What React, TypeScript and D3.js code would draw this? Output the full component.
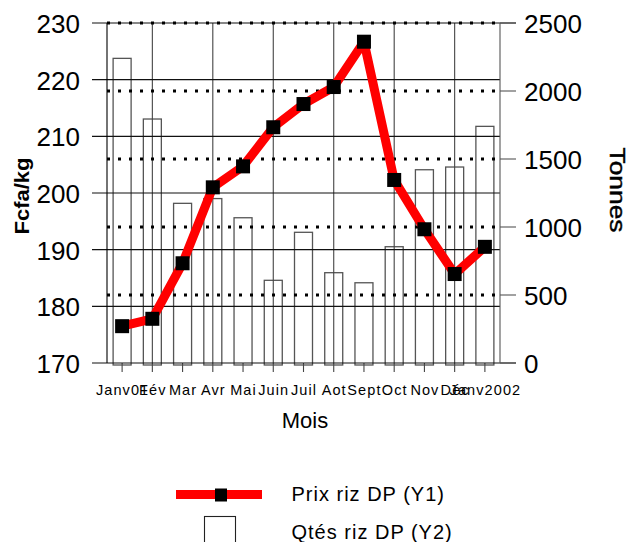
import React from "react";
import * as d3 from "d3";

const categories = ["Janv01", "Fév", "Mar", "Avr", "Mai", "Juin", "Juil", "Aot", "Sept", "Oct", "Nov", "Déc", "Janv2002"];
const prices = [176.5, 177.8, 187.6, 201.0, 204.7, 211.6, 215.7, 218.7, 226.7, 202.3, 193.6, 185.7, 190.5];
const quantities = [2240, 1794, 1174, 1209, 1068, 608, 961, 664, 590, 855, 1421, 1441, 1740];
const y1Ticks = [170, 180, 190, 200, 210, 220, 230];
const y2Ticks = [0, 500, 1000, 1500, 2000, 2500];

const FONT = "'Liberation Sans', Arial, sans-serif";

export default function App() {
  const W = 631, H = 542;
  const left = 107, right = 500, top = 23, bottom = 363;
  const x = d3.scaleBand<string>().domain(categories).range([left, right]);
  const y1 = d3.scaleLinear().domain([170, 230]).range([bottom, top]);
  const y2 = d3.scaleLinear().domain([0, 2500]).range([bottom, top]);
  const cx = (c: string) => (x(c) as number) + x.bandwidth() / 2;
  const line = d3.line<number>().x((_, i) => cx(categories[i])).y((d) => y1(d));
  const barW = 18;
  const mk = 14;

  return (
    <svg width={W} height={H} style={{ position: "absolute", left: 0, top: 0, background: "#fff" }} fontFamily={FONT}>
      {/* bars */}
      {quantities.map((q, i) => (
        <rect key={"b" + i} x={cx(categories[i]) - barW / 2} y={y2(q)} width={barW} height={bottom + 2 - y2(q)}
          fill="#fff" stroke="#555" strokeWidth={1.3} />
      ))}
      {/* vertical grid at odd categories */}
      {categories.map((c, i) => i % 2 === 1 ? (
        <line key={"vg" + i} x1={cx(c)} x2={cx(c)} y1={top} y2={bottom + 9} stroke="#444" strokeWidth={1.1} />
      ) : (
        <line key={"vt" + i} x1={cx(c)} x2={cx(c)} y1={bottom} y2={bottom + 9} stroke="#444" strokeWidth={1.1} />
      ))}
      {/* solid Y1 grid */}
      {y1Ticks.map((t) => (
        <line key={"h" + t} x1={92} x2={t === 230 || t === 170 ? 516 : right} y1={y1(t)} y2={y1(t)} stroke="#111" strokeWidth={1.1} />
      ))}
      {/* right ticks */}
      {y2Ticks.map((t) => (
        <line key={"rt" + t} x1={right} x2={516} y1={y2(t)} y2={y2(t)} stroke="#555" strokeWidth={1.1} />
      ))}
      {/* dotted Y2 grid */}
      {y2Ticks.filter((t) => t > 0).map((t) => (
        <line key={"d" + t} x1={left} x2={right - 3} y1={y2(t)} y2={y2(t)} stroke="#000" strokeWidth={3} strokeDasharray="3 8" />
      ))}
      {/* axes */}
      <line x1={left} x2={left} y1={top} y2={bottom} stroke="#000" strokeWidth={1.1} />
      <line x1={right} x2={right} y1={top} y2={bottom} stroke="#555" strokeWidth={1.1} />
      {/* price line */}
      <path d={line(prices) || ""} fill="none" stroke="#ff0000" strokeWidth={9} strokeLinejoin="round" />
      {prices.map((p, i) => (
        <rect key={"m" + i} x={cx(categories[i]) - mk / 2} y={y1(p) - mk / 2} width={mk} height={mk} fill="#000" />
      ))}
      {/* Y1 labels */}
      {y1Ticks.map((t) => (
        <text key={"l1" + t} x={80} y={y1(t) + 10} textAnchor="end" fontSize={26} fill="#000">{t}</text>
      ))}
      {/* Y2 labels */}
      {y2Ticks.map((t) => (
        <text key={"l2" + t} x={524} y={y2(t) + 10} textAnchor="start" fontSize={26} fill="#000">{t}</text>
      ))}
      {/* x labels */}
      {categories.map((c) => (
        <text key={"xl" + c} x={cx(c) + 0.5} y={395} textAnchor="middle" fontSize={14.5} letterSpacing={1.1} fill="#000">{c}</text>
      ))}
      <text x={305} y={428} textAnchor="middle" fontSize={22} fill="#000">Mois</text>
      <text transform="translate(29,196) rotate(-90)" textAnchor="middle" fontSize={21} fontWeight="bold" textLength={77} lengthAdjust="spacingAndGlyphs" fill="#000">Fcfa/kg</text>
      <text transform="translate(610,190) rotate(90)" textAnchor="middle" fontSize={22} textLength={85} lengthAdjust="spacingAndGlyphs" stroke="#000" strokeWidth={0.4} fill="#000">Tonnes</text>
      {/* legend */}
      <line x1={176} x2={262} y1={494.5} y2={494.5} stroke="#ff0000" strokeWidth={9} />
      <rect x={215} y={488.5} width={12} height={13} fill="#000" />
      <text x={291.5} y={501} fontSize={20} letterSpacing={1} fill="#000">Prix riz DP (Y1)</text>
      <rect x={204.5} y={516.5} width={31} height={40} fill="#fff" stroke="#222" strokeWidth={1.1} />
      <text x={291.5} y={539} fontSize={20} letterSpacing={1} fill="#000">Qtés riz DP (Y2)</text>
    </svg>
  );
}
